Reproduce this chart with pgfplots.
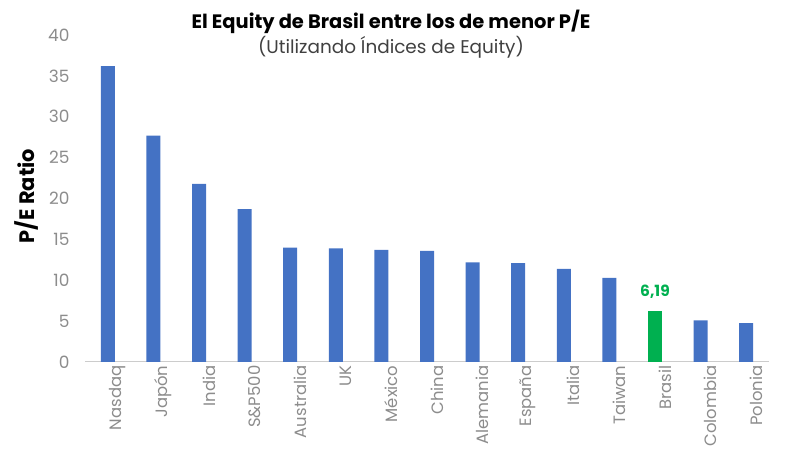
\documentclass[border=0pt]{standalone}
\usepackage{pgfplots}
\pgfplotsset{compat=1.18}
\usepackage{fontspec}
\setmainfont{Poppins}
\definecolor{barblue}{HTML}{4472C4}
\definecolor{bargreen}{HTML}{00B050}
\definecolor{ticktxt}{HTML}{8C8C8C}
\begin{document}
\begin{tikzpicture}[x=1bp,y=1bp]
\useasboundingbox (0,0) rectangle (800,470);
\begin{axis}[
  at={(85bp,108bp)}, anchor=south west,
  scale only axis, width=684bp, height=327bp,
  ymin=0, ymax=40, ytick={0,5,...,40},
  xmin=-0.5, xmax=14.5,
  xtick={0,...,14},
  xticklabels={Nasdaq,Japón,India,S\&P500,Australia,UK,México,China,Alemania,España,Italia,Taiwan,Brasil,Colombia,Polonia},
  x tick label style={rotate=90, anchor=east, font=\fontsize{16.5}{18}\selectfont, text=ticktxt},
  y tick label style={font=\fontsize{17}{19}\selectfont, text=ticktxt},
  /pgf/number format/assume math mode=true,
  yticklabel style={xshift=-12bp},
  xticklabel style={yshift=-10bp},
  major tick length=0pt,
  axis y line*=left,
  y axis line style={draw=none},
  axis x line*=bottom,
  x axis line style={draw=gray!40, line width=1bp, -},
  ybar, bar width=14bp,
  clip=false,
]
\addplot[fill=barblue, draw=none, bar shift=0pt] coordinates {
(0,36.2) (1,27.7) (2,21.8) (3,18.7) (4,14.0) (5,13.9) (6,13.7) (7,13.6)
(8,12.2) (9,12.1) (10,11.4) (11,10.3) (13,5.1) (14,4.75)};
\addplot[fill=bargreen, draw=none, bar shift=0pt,
  nodes near coords={\textbf{6,19}},
  nodes near coords style={text=bargreen, font=\fontsize{15.5}{17}\selectfont\bfseries, anchor=south, yshift=9bp}]
  coordinates {(12,6.19)};
\end{axis}
\node[font=\fontsize{19.5}{22}\selectfont\bfseries] at (391,448) {El Equity de Brasil entre los de menor P/E};
\node[font=\fontsize{18.5}{21}\selectfont, text=black!75] at (391,423) {(Utilizando Índices de Equity)};
\node[rotate=90, font=\fontsize{21}{24}\selectfont\bfseries] at (27,274) {P/E Ratio};
\end{tikzpicture}
\end{document}
